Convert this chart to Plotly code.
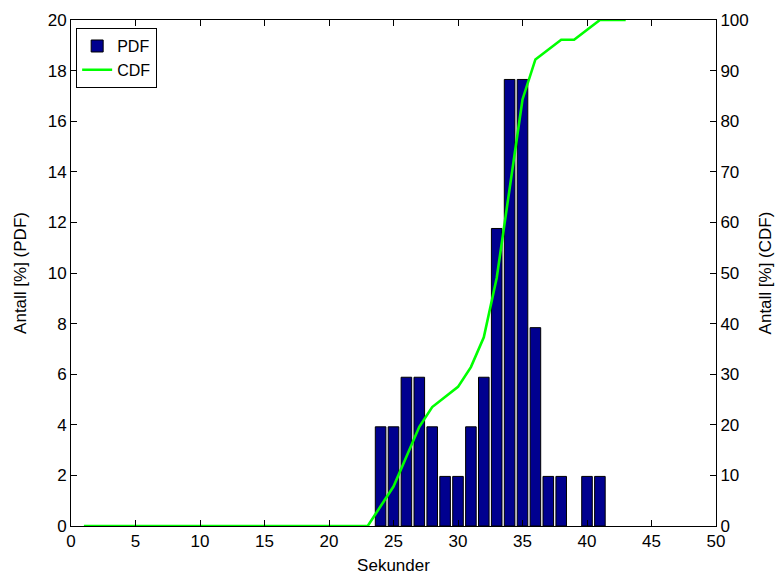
import plotly.graph_objects as go

# Data
pdf_seconds = [24, 25, 26, 27, 28, 29, 30, 31, 32, 33, 34, 35, 36, 37, 38, 40, 41]
pdf_percent = [3.92, 3.92, 5.88, 5.88, 3.92, 1.96, 1.96, 3.92, 5.88, 11.76,
               17.65, 17.65, 7.84, 1.96, 1.96, 1.96, 1.96]

cdf_seconds = [1, 2, 3, 4, 5, 6, 7, 8, 9, 10, 11, 12, 13, 14, 15, 16, 17, 18, 19, 20,
               21, 22, 23, 24, 25, 26, 27, 28, 29, 30, 31, 32, 33, 34, 35, 36, 37, 38,
               39, 40, 41, 42, 43]
cdf_percent = [0, 0, 0, 0, 0, 0, 0, 0, 0, 0, 0, 0, 0, 0, 0, 0, 0, 0, 0, 0,
               0, 0, 0, 3.9, 7.8, 13.7, 19.6, 23.5, 25.5, 27.5, 31.4, 37.3, 49.0, 66.7,
               84.3, 92.2, 94.1, 96.1, 96.1, 98.0, 100, 100, 100]

FONT = "Liberation Sans, Arial, Helvetica, sans-serif"

fig = go.Figure()
fig.add_trace(go.Bar(
    x=pdf_seconds, y=pdf_percent, name="PDF",
    marker=dict(color="#00008F", line=dict(color="black", width=1)),
    width=0.82,
))
fig.add_trace(go.Scatter(
    x=cdf_seconds, y=cdf_percent, name="CDF", yaxis="y2", mode="lines",
    line=dict(color="#00FF00", width=2.6),
))

axis_common = dict(
    showline=True, linecolor="black", linewidth=1,
    ticks="inside", ticklen=6, tickcolor="black", tickwidth=1,
    showgrid=False, zeroline=False, automargin=False,
    tickfont=dict(family=FONT, size=17, color="black"),
)

fig.update_layout(
    width=778, height=576,
    margin=dict(l=71, r=62, t=20, b=50, autoexpand=False),
    paper_bgcolor="white", plot_bgcolor="white",
    font=dict(family=FONT, size=17, color="black"),
    xaxis=dict(range=[0, 50], dtick=5, mirror="ticks",
               title=dict(text="Sekunder", font=dict(family=FONT, size=17), standoff=8),
               **axis_common),
    yaxis=dict(range=[0, 20], dtick=2,
               title=dict(text="Antall [%] (PDF)", font=dict(family=FONT, size=17), standoff=16),
               **axis_common),
    yaxis2=dict(range=[0, 100], dtick=10, overlaying="y", side="right",
                title=dict(text="Antall [%] (CDF)", font=dict(family=FONT, size=17), standoff=11),
                **axis_common),
    legend=dict(x=0.008, y=0.984, xanchor="left", yanchor="top",
                bgcolor="white", bordercolor="black", borderwidth=1,
                font=dict(family=FONT, size=16, color="black"),
                itemwidth=30, tracegroupgap=0),
    showlegend=True,
    bargap=0.2,
)

fig.write_html("out.html", config={"displayModeBar": False},
               post_script="document.body.style.margin='0px';")
